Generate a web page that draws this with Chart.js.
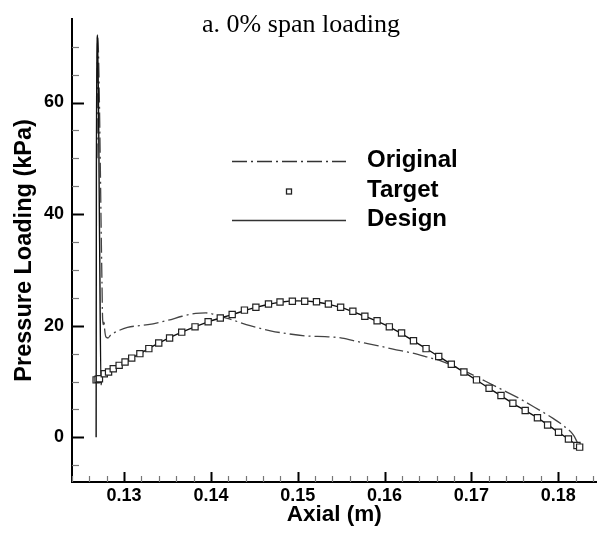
<!DOCTYPE html>
<html>
<head>
<meta charset="utf-8">
<script src="https://cdn.jsdelivr.net/npm/chart.js@4.4.0/dist/chart.umd.min.js"></script>
<style>
  html, body { margin: 0; padding: 0; background: #fff; }
</style>
</head>
<body>
<canvas id="lossChart" width="602" height="535"></canvas>
<script>
// data
var chartTitle = 'a. 0% span loading';
var seriesNames = ['Original', 'Target', 'Design'];

var xTicks = [0.13, 0.14, 0.15, 0.16, 0.17, 0.18];
var yTicks = [0, 20, 40, 60];

var targetX = [0.12678, 0.12700, 0.12716, 0.12772, 0.12821, 0.12875, 0.12943, 0.13011, 0.13088, 0.13182,
               0.13285, 0.13399, 0.13524, 0.13664, 0.13817, 0.13968, 0.14108, 0.14245, 0.14386, 0.14518,
               0.14663, 0.14796, 0.14938, 0.15080, 0.15216, 0.15353, 0.15494, 0.15635, 0.15773, 0.15914,
               0.16055, 0.16196, 0.16333, 0.16478, 0.16624, 0.16769, 0.16914, 0.17059, 0.17204, 0.17341,
               0.17478, 0.17620, 0.17761, 0.17878, 0.18004, 0.18118, 0.18216, 0.18247];
var targetY = [10.3, 10.4, 10.5, 11.4, 11.7, 12.3, 12.9, 13.5, 14.2, 15.0,
               15.9, 16.9, 17.8, 18.85, 19.8, 20.7, 21.4, 22.0, 22.8, 23.3,
               23.9, 24.25, 24.4, 24.4, 24.3, 23.9, 23.3, 22.6, 21.7, 20.9,
               19.8, 18.7, 17.3, 15.9, 14.5, 13.1, 11.7, 10.3, 8.8, 7.5,
               6.1, 4.8, 3.5, 2.2, 0.9, -0.3, -1.45, -1.75];

var designX = [0.12678, 0.12681, 0.12695, 0.12718, 0.12734, 0.12745, 0.12772, 0.12875, 0.13011, 0.13182,
               0.13399, 0.13664, 0.13968, 0.14245, 0.14518, 0.14796, 0.15000, 0.15216, 0.15494, 0.15773,
               0.16055, 0.16333, 0.16624, 0.16914, 0.17204, 0.17478, 0.17761, 0.18004, 0.18216, 0.18247];
var designY = [0, 48, 72.1, 35, 9.4, 10.9, 11.4, 12.3, 13.5, 15.0,
               16.9, 18.85, 20.7, 22.0, 23.3, 24.2, 24.45, 24.25, 23.3, 21.7,
               19.8, 17.3, 14.5, 11.7, 8.8, 6.1, 3.5, 0.9, -1.45, -1.9];

var originalX = [0.12688, 0.12695, 0.12745, 0.12752, 0.12760, 0.12768, 0.12775, 0.12790, 0.12815, 0.12843,
                 0.12920, 0.13039, 0.13275, 0.13510, 0.13667, 0.13824, 0.13941, 0.14020, 0.14098, 0.14255,
                 0.14451, 0.14686, 0.14870, 0.15118, 0.15314, 0.15510, 0.15706, 0.15902, 0.16098, 0.16294,
                 0.16490, 0.16647, 0.16778, 0.16961, 0.17157, 0.17385, 0.17549, 0.17727, 0.17941, 0.18059,
                 0.18176, 0.18220, 0.18250];
var originalY = [50, 72, 28, 21.5, 20.2, 21.0, 19.5, 18.0, 17.8, 18.3,
                 19.0, 19.7, 20.2, 21.0, 21.7, 22.2, 22.3, 22.1, 21.7, 21.0,
                 20.0, 19.1, 18.6, 18.15, 18.05, 17.8, 17.1, 16.5, 15.8, 15.2,
                 14.4, 13.7, 12.9, 11.6, 10.1, 8.3, 7.0, 5.4, 3.4, 2.1,
                 0.4, -0.9, -1.8];

function toPoints(xs, ys) {
    var pts = [];
    for (var i = 0; i < xs.length; i++) {
        pts.push({ x: xs[i], y: ys[i] });
    }
    return pts;
}

var sansFont = '"Liberation Sans", Arial, sans-serif';
var dashDot = [15, 4, 2, 4];

// inward tecplot style tick marks, title text and the legend box
var decorPlugin = {
    id: 'decor',
    afterDraw: function(chart) {
        var ctx = chart.ctx;
        var xs = chart.scales.x, ys = chart.scales.y;
        var area = chart.chartArea;
        ctx.save();
        ctx.strokeStyle = '#000';

        // x ticks every 0.002
        for (var i = 62; i <= 92; i++) {
            var px = Math.round(xs.getPixelForValue(i / 500)) + 0.5;
            var major = (i % 5 === 0);
            ctx.lineWidth = major ? 2 : 1.2;
            ctx.strokeStyle = major ? '#000' : '#777';
            ctx.beginPath();
            ctx.moveTo(px, area.bottom);
            ctx.lineTo(px, area.bottom - (major ? 10 : 6));
            ctx.stroke();
        }
        // y ticks every 5
        for (var v = -5; v <= 70; v += 5) {
            var py = Math.round(ys.getPixelForValue(v)) + 0.5;
            var majorY = (v % 20 === 0);
            ctx.lineWidth = majorY ? 2 : 1.2;
            ctx.strokeStyle = majorY ? '#000' : '#777';
            ctx.beginPath();
            ctx.moveTo(area.left, py);
            ctx.lineTo(area.left + (majorY ? 12 : 7), py);
            ctx.stroke();
        }

        // title
        ctx.fillStyle = '#000';
        ctx.font = '26px "Liberation Serif", "Times New Roman", serif';
        ctx.textAlign = 'center';
        ctx.textBaseline = 'alphabetic';
        ctx.fillText(chartTitle, 301, 32);

        // legend
        var rows = [
            { name: seriesNames[0], y: 161.5, kind: 'dash' },
            { name: seriesNames[1], y: 191.5, kind: 'square' },
            { name: seriesNames[2], y: 220.5, kind: 'line' }
        ];
        rows.forEach(function(r) {
            ctx.save();
            ctx.strokeStyle = '#333';
            ctx.lineWidth = 1.6;
            if (r.kind === 'dash') {
                ctx.setLineDash(dashDot);
                ctx.beginPath();
                ctx.moveTo(232, r.y);
                ctx.lineTo(346, r.y);
                ctx.stroke();
            } else if (r.kind === 'line') {
                ctx.beginPath();
                ctx.moveTo(232, r.y);
                ctx.lineTo(346, r.y);
                ctx.stroke();
            } else {
                ctx.fillStyle = '#fff';
                ctx.lineWidth = 1.3;
                ctx.strokeStyle = '#222';
                ctx.fillRect(286.5, r.y - 2.5, 5, 5);
                ctx.strokeRect(286.5, r.y - 2.5, 5, 5);
            }
            ctx.restore();
            ctx.fillStyle = '#000';
            ctx.font = 'bold 24px ' + sansFont;
            ctx.textAlign = 'left';
            ctx.textBaseline = 'alphabetic';
            ctx.fillText(r.name, 367, r.y + 5);
        });
        ctx.restore();
    }
};

var ctx = document.getElementById('lossChart').getContext('2d');
var lossChart = new Chart(ctx, {
    type: 'line',
    data: {
        datasets: [{
            label: seriesNames[1],
            data: toPoints(targetX, targetY),
            showLine: false,
            pointStyle: 'rect',
            pointRadius: 4.4,
            pointBorderWidth: 1.2,
            pointBorderColor: '#222',
            pointBackgroundColor: '#fff',
            order: 0
        }, {
            label: seriesNames[2],
            data: toPoints(designX, designY),
            borderColor: '#111',
            borderWidth: 1.4,
            pointRadius: 0,
            cubicInterpolationMode: 'monotone',
            fill: false,
            order: 1
        }, {
            label: seriesNames[0],
            data: toPoints(originalX, originalY),
            borderColor: '#444',
            borderWidth: 1.3,
            borderDash: dashDot,
            pointRadius: 0,
            cubicInterpolationMode: 'monotone',
            fill: false,
            order: 2
        }]
    },
    options: {
        responsive: false,
        animation: false,
        layout: { padding: { top: 5, right: 0, left: 0, bottom: 0 } },
        plugins: {
            legend: { display: false },
            tooltip: { enabled: false }
        },
        scales: {
            x: {
                type: 'linear',
                min: 0.124,
                max: 0.1844,
                afterBuildTicks: function(scale) {
                    scale.ticks = xTicks.map(function(v) { return { value: v }; });
                },
                afterFit: function(scale) { scale.height = 53; },
                grid: { display: false, drawTicks: false },
                border: { display: true, color: '#000', width: 2 },
                ticks: {
                    color: '#000',
                    padding: 3,
                    maxRotation: 0,
                    font: { family: sansFont, size: 18, weight: 'bold' },
                    callback: function(v) { return v.toFixed(2); }
                },
                title: {
                    display: true,
                    text: 'Axial (m)',
                    color: '#000',
                    padding: { top: 0, bottom: 7 },
                    font: { family: sansFont, size: 22.5, weight: 'bold' }
                }
            },
            y: {
                type: 'linear',
                min: -8,
                max: 75,
                afterBuildTicks: function(scale) {
                    scale.ticks = yTicks.map(function(v) { return { value: v }; });
                },
                afterFit: function(scale) { scale.width = 72; },
                grid: { display: false, drawTicks: false },
                border: { display: true, color: '#000', width: 2 },
                ticks: {
                    color: '#000',
                    padding: 8,
                    font: { family: sansFont, size: 18, weight: 'bold' }
                },
                title: {
                    display: true,
                    text: 'Pressure Loading (kPa)',
                    color: '#000',
                    padding: { top: 10, bottom: 0 },
                    font: { family: sansFont, size: 23.5, weight: 'bold' }
                }
            }
        }
    },
    plugins: [decorPlugin]
});
</script>
</body>
</html>
